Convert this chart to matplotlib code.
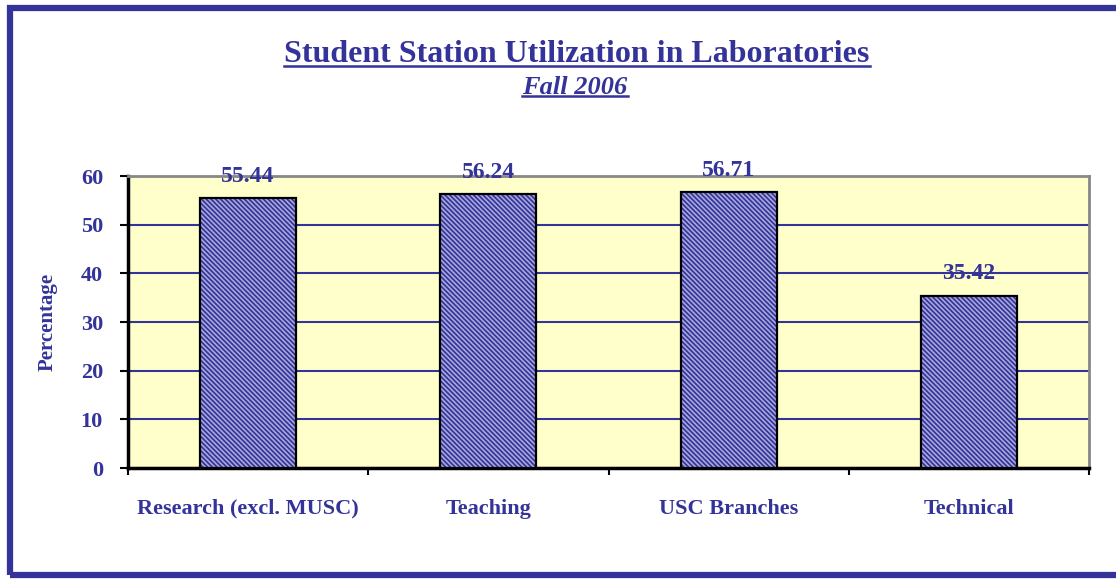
import numpy as np
import matplotlib.pyplot as plt
from matplotlib.patches import Rectangle
from matplotlib.lines import Line2D

categorias = ['Research (excl. MUSC)', 'Teaching', 'USC Branches', 'Technical']
valores = [55.44, 56.24, 56.71, 35.42]
yticks = [0, 10, 20, 30, 40, 50, 60]

azul = '#333399'
plt.rcParams['font.family'] = ['Liberation Serif', 'DejaVu Serif']
plt.rcParams['font.weight'] = 'bold'
plt.rcParams['hatch.linewidth'] = 1.2

fig = plt.figure(figsize=(11.16, 5.79), dpi=100)
ax = fig.add_axes([128/1116, 1 - 468/579, (1089-128)/1116, (468-176)/579])
ax.set_facecolor('#ffffcc')

x = np.arange(len(categorias))
ax.bar(x, valores, width=0.4, color=azul, edgecolor='none', zorder=3)
ax.bar(x, valores, width=0.4, color='none', edgecolor='#a8a8dc', hatch='\\' * 7,
       linewidth=0, zorder=4)
ax.bar(x, valores, width=0.4, color='none', edgecolor='black', linewidth=1.6, zorder=5)

for xi, v in zip(x, valores):
    ax.text(xi, v + 4.5, f'{v:.2f}', ha='center', va='center', fontsize=17,
            color=azul, fontweight='bold', zorder=6)

ax.set_xlim(-0.5, len(categorias) - 0.5)
ax.set_ylim(0, 60)
ax.set_yticks(yticks)
ax.set_yticklabels([str(t) for t in yticks], fontsize=16, color=azul, fontweight='bold')
ax.yaxis.grid(True, color=azul, linewidth=1.5, zorder=1)
ax.set_axisbelow(True)

ax.set_xticks(np.arange(len(categorias) + 1) - 0.5, minor=False)
ax.set_xticklabels([])
ax.set_xticks(x, minor=True)
ax.set_xticklabels(categorias, minor=True, fontsize=16, color=azul, fontweight='bold')
ax.tick_params(axis='x', which='minor', length=0, pad=22)
ax.tick_params(axis='x', which='major', length=5, width=1.5, direction='out')
ax.tick_params(axis='y', length=6, width=1.5, direction='out', pad=12)

for lado in ['left', 'bottom']:
    ax.spines[lado].set_color('black')
    ax.spines[lado].set_linewidth(2.5)
for lado in ['top', 'right']:
    ax.spines[lado].set_color('#888888')
    ax.spines[lado].set_linewidth(2)

ax.set_ylabel('Percentage', fontsize=15, color=azul, fontweight='bold', labelpad=17)

t1 = fig.text(577/1116, 1 - 54/579, 'Student Station Utilization in Laboratories',
              ha='center', va='center', fontsize=23, color=azul, fontweight='bold')
t2 = fig.text(575/1116, 1 - 87/579, 'Fall 2006', ha='center', va='center',
              fontsize=19, color=azul, fontweight='bold', style='italic')

# subrayado de titulos
fig.canvas.draw()
r = fig.canvas.get_renderer()
for t in [t1, t2]:
    bb = t.get_window_extent(r)
    y = (bb.y0 + 3) / fig.bbox.height
    fig.add_artist(Line2D([bb.x0 / fig.bbox.width, bb.x1 / fig.bbox.width], [y, y],
                          transform=fig.transFigure, color=azul, linewidth=1.8))

fig.add_artist(Rectangle((10/1116, 4/579), 1.1, 1 - 12/579, transform=fig.transFigure,
                         fill=False, edgecolor=azul, linewidth=4.5))

fig.savefig('out.png', dpi=100)
